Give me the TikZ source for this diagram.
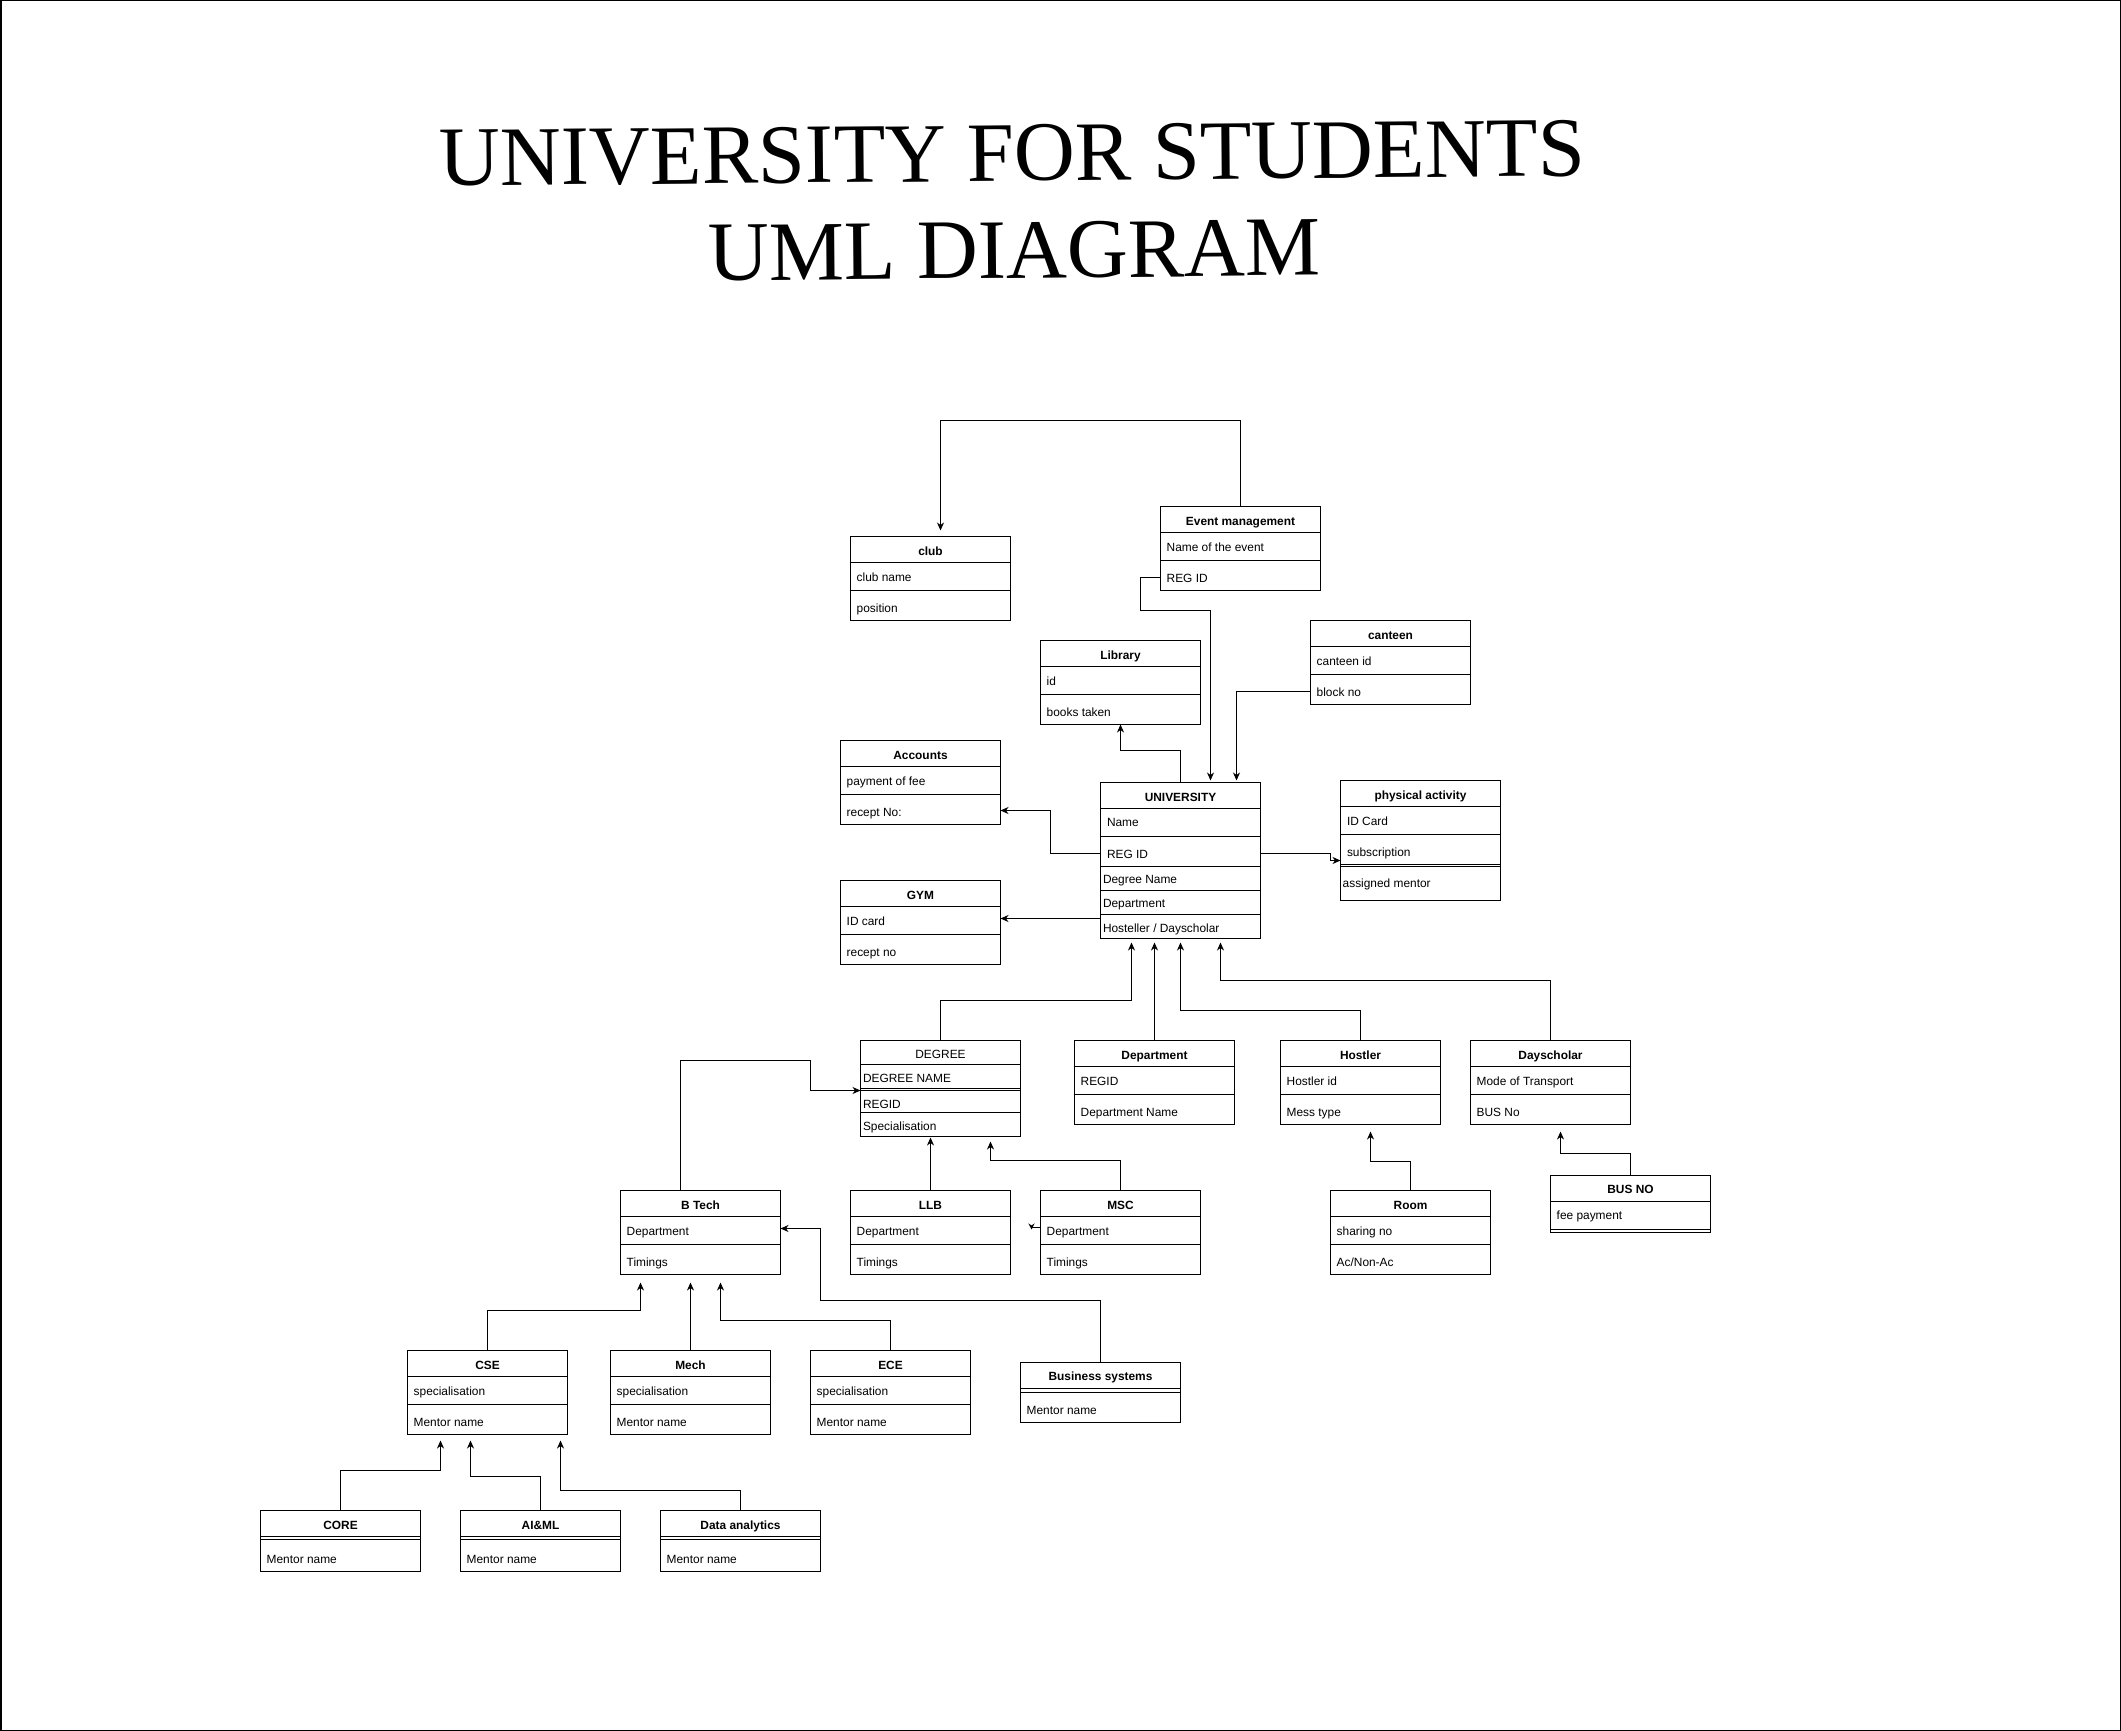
\documentclass[tikz,border=0pt]{standalone}
\usepackage{fontspec}
\setmainfont{Liberation Sans}
\newfontfamily\titlefont{Liberation Serif}
\usetikzlibrary{arrows.meta,calc}
\tikzset{
  umlbox/.style={draw, line width=1pt, inner sep=0pt, outer sep=0pt, anchor=north west, fill=white},
  sepline/.style={line width=1pt},
  conn/.style={line width=1pt, -{Stealth[length=8pt,width=7pt,inset=2.5pt]}},
  hd/.style={anchor=base, inner sep=0pt, font=\fontsize{11.9}{14}\selectfont\bfseries},
  hdn/.style={anchor=base, inner sep=0pt, font=\fontsize{11.9}{14}\selectfont},
  att/.style={anchor=base west, inner sep=0pt, font=\fontsize{11.9}{14}\selectfont},
  ttl/.style={anchor=base, inner sep=0pt, rotate=0.5, font=\titlefont\fontsize{84.5}{97}\selectfont},
}
% standard class: header, two attribute rows
\newcommand\umlstd[6]{%
  \node[umlbox, minimum width=160pt, minimum height=84pt] (#1) at (#2,#3) {};
  \draw[sepline] ($(#1.north west)+(0,26)$) -- ($(#1.north east)+(0,26)$);
  \draw[sepline] ($(#1.north west)+(0,54)$) -- ($(#1.north east)+(0,54)$);
  \node[hd] (#1-t) at ($(#1.north)+(0,18.5)$) {#4};
  \node[att] (#1-a) at ($(#1.north west)+(6,45.1)$) {#5};
  \node[att] (#1-b) at ($(#1.north west)+(6,76.4)$) {#6};
}
% class with empty attribute band and one row
\newcommand\umlmentor[4]{%
  \node[umlbox, minimum width=160pt, minimum height=61pt] (#1) at (#2,#3) {};
  \draw[sepline] ($(#1.north west)+(0,26)$) -- ($(#1.north east)+(0,26)$);
  \draw[sepline] ($(#1.north west)+(0,29)$) -- ($(#1.north east)+(0,29)$);
  \node[hd] (#1-t) at ($(#1.north)+(0,19)$) {#4};
  \node[att] (#1-a) at ($(#1.north west)+(6,52.7)$) {Mentor name};
}
\begin{document}
\begin{tikzpicture}[x=1pt,y=-1pt]
\useasboundingbox (0,0) rectangle (2121,1731);
\draw[line width=1.5pt] (0.75,0.75) rectangle (2120.25,1730.25);

% title
\node[ttl] (title1) at (1012.5,181) {UNIVERSITY FOR STUDENTS};
\node[ttl] (title2) at (1014.5,278) {UML DIAGRAM};

% standard boxes
\umlstd{club}{850.5}{536.5}{club}{club name}{position}
\umlstd{evt}{1160.5}{506.5}{Event management}{Name of the event}{REG ID}
\umlstd{library}{1040.5}{640.5}{Library}{id}{books taken}
\umlstd{canteen}{1310.5}{620.5}{canteen}{canteen id}{block no}
\umlstd{accounts}{840.5}{740.5}{Accounts}{payment of fee}{recept No:}
\umlstd{gym}{840.5}{880.5}{GYM}{ID card}{recept no}
\umlstd{dept}{1074.5}{1040.5}{Department}{REGID}{Department Name}
\umlstd{hostler}{1280.5}{1040.5}{Hostler}{Hostler id}{Mess type}
\umlstd{daysch}{1470.5}{1040.5}{Dayscholar}{Mode of Transport}{BUS No}
\umlstd{btech}{620.5}{1190.5}{B Tech}{Department}{Timings}
\umlstd{llb}{850.5}{1190.5}{LLB}{Department}{Timings}
\umlstd{msc}{1040.5}{1190.5}{MSC}{Department}{Timings}
\umlstd{room}{1330.5}{1190.5}{Room}{sharing no}{Ac/Non-Ac}
\umlstd{cse}{407.5}{1350.5}{CSE}{specialisation}{Mentor name}
\umlstd{mech}{610.5}{1350.5}{Mech}{specialisation}{Mentor name}
\umlstd{ece}{810.5}{1350.5}{ECE}{specialisation}{Mentor name}

% UNIVERSITY
\node[umlbox, minimum width=160pt, minimum height=156pt] (univ) at (1100.5,782.5) {};
\foreach \d in {26,54,84,108,132}
  \draw[sepline] ($(univ.north west)+(0,\d)$) -- ($(univ.north east)+(0,\d)$);
\node[hd] (univ-t) at ($(univ.north)+(0,18.7)$) {UNIVERSITY};
\node[att] (univ-a) at ($(univ.north west)+(6.3,44.4)$) {Name};
\node[att] (univ-b) at ($(univ.north west)+(6.3,76)$) {REG ID};
\node[att] (univ-c) at ($(univ.north west)+(2.3,101)$) {Degree Name};
\node[att] (univ-d) at ($(univ.north west)+(2.3,125)$) {Department};
\node[att] (univ-e) at ($(univ.north west)+(2.3,149.7)$) {Hosteller / Dayscholar};

% physical activity
\node[umlbox, minimum width=160pt, minimum height=120pt] (phys) at (1340.5,780.5) {};
\foreach \d in {26,54,84,86}
  \draw[sepline] ($(phys.north west)+(0,\d)$) -- ($(phys.north east)+(0,\d)$);
\node[hd] (phys-t) at ($(phys.north)+(0,19)$) {physical activity};
\node[att] (phys-a) at ($(phys.north west)+(6.3,45)$) {ID Card};
\node[att] (phys-b) at ($(phys.north west)+(6.3,76.4)$) {subscription};
\node[att] (phys-c) at ($(phys.north west)+(2,107)$) {assigned mentor};

% DEGREE
\node[umlbox, minimum width=160pt, minimum height=96pt] (degree) at (860.5,1040.5) {};
\foreach \d in {24,48,50,72}
  \draw[sepline] ($(degree.north west)+(0,\d)$) -- ($(degree.north east)+(0,\d)$);
\node[hdn] (degree-t) at ($(degree.north)+(0,17.7)$) {DEGREE};
\node[att] (degree-a) at ($(degree.north west)+(2.3,41.7)$) {DEGREE NAME};
\node[att] (degree-b) at ($(degree.north west)+(2.3,67.7)$) {REGID};
\node[att] (degree-c) at ($(degree.north west)+(2.3,89.7)$) {Specialisation};

% BUS NO
\node[umlbox, minimum width=160pt, minimum height=57pt] (busno) at (1550.5,1175.5) {};
\foreach \d in {26,54}
  \draw[sepline] ($(busno.north west)+(0,\d)$) -- ($(busno.north east)+(0,\d)$);
\node[hd] (busno-t) at ($(busno.north)+(0,17.6)$) {BUS NO};
\node[att] (busno-a) at ($(busno.north west)+(6,44.3)$) {fee payment};

% Business systems
\node[umlbox, minimum width=160pt, minimum height=60pt] (bsys) at (1020.5,1362.5) {};
\foreach \d in {26,30}
  \draw[sepline] ($(bsys.north west)+(0,\d)$) -- ($(bsys.north east)+(0,\d)$);
\node[hd] (bsys-t) at ($(bsys.north)+(0,18.4)$) {Business systems};
\node[att] (bsys-a) at ($(bsys.north west)+(6,52)$) {Mentor name};

% bottom row
\umlmentor{core}{260.5}{1510.5}{CORE}
\umlmentor{aiml}{460.5}{1510.5}{AI\&ML}
\umlmentor{data}{660.5}{1510.5}{Data analytics}

% connectors
\draw[conn] (evt.north) -- ++(0,-86) -| ($(club.north west)+(90,-6)$);
\draw[conn] ($(evt.north west)+(0,71)$) -- ++(-20,0) -- ++(0,33) -| ($(univ.north west)+(110,-2)$);
\draw[conn] ($(canteen.north west)+(0,71)$) -| ($(univ.north west)+(136,-2)$);
\draw[conn] (univ.north) -- ++(0,-32) -| (library.south);
\draw[conn] ($(univ.north west)+(0,71)$) -- ++(-50,0) |- ($(accounts.north east)+(0,70)$);
\draw[conn] ($(univ.north east)+(0,71)$) -- ++(70,0) |- ($(phys.north west)+(0,80)$);
\draw[conn] ($(univ.north west)+(0,136)$) -- ($(gym.north east)+(0,38)$);

\draw[conn] (degree.north) -- ++(0,-40) -| ($(univ.south west)+(31,4)$);
\draw[conn] (dept.north) -- ($(univ.south west)+(54,4)$);
\draw[conn] (hostler.north) -- ++(0,-30) -| ($(univ.south west)+(80,4)$);
\draw[conn] (daysch.north) -- ++(0,-60) -| ($(univ.south west)+(120,4)$);

\draw[conn] ($(btech.north west)+(60,0)$) -- ++(0,-130) -- ++(130,0) |- ($(degree.north west)+(0,50)$);
\draw[conn] (llb.north) -- ($(degree.south west)+(70,1)$);
\draw[conn] (msc.north) -- ++(0,-30) -| ($(degree.south west)+(130,5)$);
\draw[line width=1pt, -{Stealth[length=6pt,width=6pt,inset=2pt]}] ($(msc.north west)+(0,37)$) -- ++(-9,0) -- ++(0,2);

\draw[conn] (room.north) -- ++(0,-29) -| ($(hostler.south west)+(90,7)$);
\draw[conn] (busno.north) -- ++(0,-22) -| ($(daysch.south west)+(90,7)$);

\draw[conn] (bsys.north) -- ++(0,-62) -- ++(-280,0) |- ($(btech.north east)+(0,38)$);
\draw[conn] (cse.north) -- ++(0,-40) -| ($(btech.south west)+(20,8)$);
\draw[conn] (mech.north) -- ($(btech.south west)+(70,8)$);
\draw[conn] (ece.north) -- ++(0,-30) -| ($(btech.south west)+(100,8)$);

\draw[conn] (core.north) -- ++(0,-40) -| ($(cse.south west)+(33,6)$);
\draw[conn] (aiml.north) -- ++(0,-34) -| ($(cse.south west)+(63,6)$);
\draw[conn] (data.north) -- ++(0,-20) -| ($(cse.south west)+(153,6)$);
\end{tikzpicture}
\end{document}
